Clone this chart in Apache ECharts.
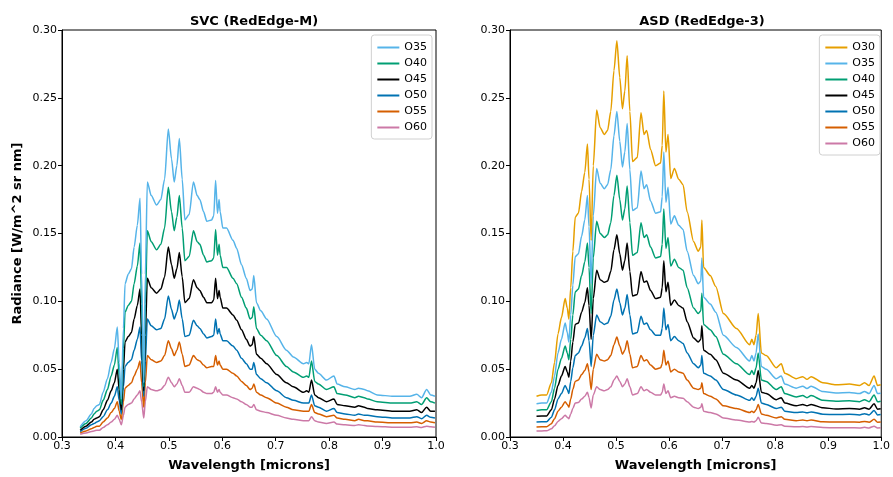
<!DOCTYPE html>
<html>
<head>
<meta charset="utf-8">
<script src="https://cdn.jsdelivr.net/npm/echarts@6/dist/echarts.min.js"></script>
<style>
  html, body { margin: 0; padding: 0; background: #fff; }
  #chart { width: 893px; height: 477px; }
</style>
</head>
<body>
<div id="chart"></div>
<script>
// SVC (RedEdge-M) wavelengths and radiance per series
const svcWave = [0.334,0.345,0.355,0.36,0.365,0.37,0.377,0.385,0.392,0.398,0.4035,0.407,0.411,0.415,0.418,0.424,0.43,0.435,0.441,0.446,0.449,0.453,0.456,0.4597,0.467,0.477,0.485,0.492,0.499,0.505,0.51,0.515,0.5196,0.525,0.53,0.538,0.546,0.553,0.558,0.565,0.571,0.58,0.584,0.5875,0.591,0.594,0.596,0.601,0.608,0.62,0.627,0.636,0.645,0.652,0.656,0.659,0.664,0.672,0.683,0.702,0.72,0.733,0.752,0.758,0.762,0.767,0.773,0.78,0.795,0.809,0.815,0.83,0.848,0.855,0.866,0.872,0.89,0.92,0.951,0.964,0.973,0.9825,0.99,0.998];
const svcO35 = [0.0075,0.012,0.017,0.021,0.023,0.024,0.033,0.043,0.055,0.065,0.081,0.055,0.028,0.080,0.113,0.120,0.124,0.140,0.156,0.176,0.120,0.040,0.120,0.188,0.178,0.171,0.175,0.190,0.227,0.205,0.188,0.200,0.220,0.190,0.160,0.164,0.188,0.178,0.175,0.166,0.159,0.160,0.163,0.189,0.165,0.175,0.166,0.154,0.154,0.145,0.139,0.127,0.117,0.108,0.109,0.119,0.099,0.093,0.087,0.074,0.064,0.059,0.054,0.055,0.054,0.068,0.050,0.047,0.042,0.045,0.039,0.037,0.035,0.036,0.035,0.034,0.031,0.030,0.030,0.0315,0.029,0.035,0.031,0.030];
const svcO40 = [0.0065,0.010,0.014,0.017,0.019,0.020,0.027,0.035,0.045,0.053,0.066,0.045,0.024,0.065,0.092,0.097,0.100,0.113,0.126,0.143,0.098,0.037,0.098,0.152,0.144,0.138,0.142,0.154,0.184,0.166,0.152,0.162,0.178,0.154,0.130,0.133,0.152,0.144,0.142,0.134,0.129,0.130,0.132,0.153,0.134,0.142,0.134,0.125,0.125,0.117,0.113,0.103,0.095,0.087,0.088,0.096,0.080,0.075,0.071,0.060,0.052,0.048,0.044,0.045,0.044,0.056,0.041,0.039,0.035,0.037,0.032,0.031,0.029,0.030,0.029,0.028,0.026,0.025,0.025,0.026,0.024,0.029,0.026,0.025];
const svcO45 = [0.005,0.008,0.011,0.013,0.014,0.015,0.020,0.027,0.034,0.040,0.050,0.035,0.020,0.050,0.070,0.074,0.077,0.087,0.097,0.109,0.075,0.034,0.075,0.117,0.110,0.106,0.109,0.118,0.140,0.127,0.117,0.124,0.136,0.118,0.099,0.102,0.116,0.110,0.108,0.103,0.099,0.099,0.101,0.117,0.102,0.108,0.103,0.095,0.095,0.090,0.086,0.079,0.072,0.067,0.068,0.074,0.061,0.058,0.054,0.046,0.040,0.037,0.033,0.034,0.033,0.042,0.031,0.029,0.026,0.028,0.024,0.023,0.022,0.023,0.022,0.021,0.020,0.019,0.019,0.020,0.018,0.022,0.019,0.019];
const svcO50 = [0.004,0.0065,0.009,0.010,0.011,0.012,0.015,0.020,0.025,0.030,0.037,0.027,0.017,0.037,0.052,0.055,0.057,0.064,0.072,0.081,0.056,0.030,0.056,0.087,0.082,0.079,0.080,0.087,0.104,0.094,0.087,0.092,0.101,0.087,0.074,0.075,0.086,0.082,0.080,0.076,0.073,0.074,0.075,0.087,0.076,0.080,0.076,0.071,0.071,0.067,0.064,0.058,0.054,0.050,0.050,0.055,0.046,0.043,0.040,0.034,0.029,0.027,0.025,0.025,0.025,0.031,0.023,0.022,0.019,0.021,0.018,0.017,0.016,0.017,0.016,0.016,0.015,0.014,0.014,0.015,0.0135,0.016,0.0145,0.014];
const svcO55 = [0.003,0.0045,0.006,0.007,0.008,0.008,0.011,0.014,0.018,0.021,0.026,0.019,0.013,0.026,0.036,0.038,0.040,0.045,0.050,0.056,0.040,0.022,0.040,0.060,0.057,0.055,0.056,0.060,0.071,0.065,0.060,0.064,0.070,0.061,0.052,0.053,0.060,0.057,0.056,0.053,0.051,0.052,0.052,0.060,0.053,0.056,0.053,0.050,0.050,0.047,0.045,0.041,0.038,0.035,0.036,0.039,0.033,0.031,0.029,0.025,0.022,0.020,0.019,0.019,0.019,0.024,0.018,0.017,0.015,0.016,0.014,0.013,0.012,0.013,0.012,0.012,0.011,0.0105,0.0105,0.011,0.010,0.012,0.011,0.0105];
const svcO60 = [0.002,0.003,0.004,0.0045,0.005,0.005,0.007,0.009,0.011,0.013,0.016,0.013,0.009,0.016,0.022,0.024,0.025,0.028,0.031,0.034,0.026,0.014,0.026,0.037,0.035,0.034,0.035,0.038,0.044,0.040,0.037,0.039,0.043,0.038,0.033,0.033,0.037,0.036,0.035,0.033,0.032,0.032,0.033,0.037,0.033,0.035,0.033,0.031,0.031,0.029,0.028,0.026,0.024,0.022,0.022,0.024,0.020,0.019,0.018,0.016,0.014,0.013,0.012,0.012,0.012,0.015,0.012,0.011,0.010,0.011,0.0095,0.009,0.0085,0.009,0.0085,0.0082,0.0078,0.0072,0.0072,0.0075,0.007,0.008,0.0075,0.0072];

// ASD (RedEdge-3)
const asdWave = [0.35,0.36,0.369,0.378,0.384,0.3905,0.397,0.404,0.408,0.411,0.4145,0.4185,0.423,0.429,0.435,0.441,0.446,0.449,0.453,0.457,0.4634,0.47,0.478,0.484,0.490,0.496,0.5015,0.507,0.512,0.5165,0.5209,0.526,0.531,0.540,0.547,0.5527,0.5577,0.565,0.5745,0.584,0.587,0.590,0.594,0.598,0.603,0.610,0.618,0.6263,0.634,0.6462,0.655,0.6598,0.6618,0.665,0.6775,0.688,0.7024,0.727,0.752,0.756,0.760,0.764,0.768,0.774,0.783,0.802,0.8115,0.818,0.8396,0.852,0.860,0.8677,0.890,0.9145,0.94,0.959,0.9685,0.977,0.9865,0.993,0.999];
const asdO30 = [0.030,0.031,0.031,0.040,0.055,0.076,0.088,0.102,0.095,0.087,0.110,0.137,0.162,0.165,0.181,0.195,0.216,0.190,0.145,0.200,0.241,0.228,0.223,0.226,0.240,0.270,0.292,0.265,0.242,0.255,0.281,0.240,0.203,0.206,0.239,0.223,0.226,0.212,0.200,0.202,0.215,0.255,0.210,0.223,0.1905,0.198,0.190,0.186,0.166,0.144,0.137,0.140,0.160,0.125,0.119,0.111,0.091,0.080,0.068,0.072,0.068,0.075,0.091,0.062,0.060,0.051,0.054,0.047,0.043,0.0445,0.0425,0.0445,0.040,0.0385,0.039,0.038,0.040,0.038,0.045,0.038,0.0385];
const asdO35 = [0.0245,0.025,0.025,0.033,0.045,0.062,0.072,0.084,0.077,0.070,0.090,0.112,0.133,0.135,0.148,0.160,0.178,0.155,0.113,0.163,0.198,0.187,0.183,0.186,0.197,0.222,0.240,0.218,0.199,0.210,0.231,0.197,0.167,0.169,0.196,0.183,0.186,0.174,0.165,0.166,0.177,0.210,0.173,0.184,0.157,0.163,0.156,0.153,0.137,0.119,0.113,0.115,0.132,0.103,0.098,0.092,0.075,0.066,0.056,0.060,0.056,0.062,0.076,0.052,0.050,0.043,0.045,0.039,0.036,0.0375,0.0357,0.0375,0.0335,0.0324,0.0328,0.032,0.0336,0.032,0.038,0.032,0.0323];
const asdO40 = [0.0195,0.020,0.020,0.026,0.036,0.050,0.058,0.067,0.062,0.057,0.072,0.090,0.107,0.109,0.119,0.129,0.143,0.125,0.091,0.132,0.159,0.150,0.147,0.149,0.158,0.178,0.193,0.175,0.160,0.168,0.185,0.158,0.134,0.136,0.158,0.147,0.149,0.140,0.132,0.133,0.142,0.168,0.139,0.147,0.126,0.131,0.125,0.123,0.110,0.095,0.091,0.093,0.106,0.083,0.079,0.074,0.061,0.054,0.046,0.049,0.046,0.051,0.062,0.042,0.041,0.035,0.037,0.032,0.0295,0.0305,0.029,0.0305,0.027,0.0263,0.0267,0.026,0.0275,0.026,0.031,0.026,0.0264];
const asdO45 = [0.0153,0.0155,0.0155,0.020,0.028,0.038,0.045,0.052,0.048,0.044,0.056,0.070,0.083,0.084,0.092,0.099,0.110,0.097,0.072,0.102,0.123,0.116,0.114,0.115,0.122,0.138,0.149,0.135,0.123,0.130,0.143,0.122,0.104,0.105,0.122,0.114,0.115,0.108,0.102,0.103,0.110,0.130,0.107,0.114,0.097,0.101,0.097,0.095,0.085,0.073,0.070,0.072,0.082,0.064,0.061,0.057,0.047,0.042,0.036,0.038,0.036,0.040,0.049,0.033,0.032,0.0275,0.029,0.025,0.023,0.024,0.023,0.024,0.0215,0.0207,0.021,0.0205,0.0216,0.0205,0.0245,0.0205,0.0208];
const asdO50 = [0.011,0.0112,0.0112,0.0145,0.020,0.028,0.032,0.038,0.035,0.032,0.041,0.051,0.060,0.062,0.067,0.073,0.080,0.071,0.052,0.075,0.090,0.085,0.083,0.084,0.089,0.101,0.109,0.099,0.090,0.095,0.105,0.090,0.076,0.077,0.089,0.083,0.084,0.079,0.075,0.075,0.080,0.095,0.079,0.083,0.071,0.074,0.071,0.069,0.062,0.054,0.051,0.053,0.060,0.047,0.045,0.042,0.035,0.031,0.027,0.029,0.027,0.030,0.036,0.025,0.024,0.021,0.022,0.019,0.018,0.0185,0.0178,0.0185,0.0168,0.0165,0.0167,0.0163,0.0172,0.0163,0.0195,0.0163,0.0165];
const asdO55 = [0.0073,0.0075,0.0075,0.0098,0.0135,0.019,0.022,0.026,0.024,0.022,0.028,0.035,0.041,0.042,0.046,0.049,0.054,0.048,0.035,0.050,0.061,0.057,0.056,0.057,0.060,0.068,0.0737,0.067,0.061,0.064,0.071,0.061,0.051,0.052,0.060,0.056,0.057,0.053,0.050,0.051,0.054,0.064,0.053,0.056,0.048,0.050,0.048,0.047,0.042,0.036,0.035,0.036,0.040,0.032,0.030,0.028,0.023,0.021,0.018,0.019,0.018,0.020,0.024,0.017,0.016,0.014,0.015,0.013,0.012,0.0125,0.012,0.0125,0.0112,0.011,0.0111,0.0109,0.0115,0.0109,0.013,0.0109,0.011];
const asdO60 = [0.0044,0.0045,0.0046,0.006,0.0083,0.0115,0.0135,0.016,0.0145,0.0135,0.017,0.021,0.025,0.0255,0.028,0.030,0.033,0.029,0.0214,0.031,0.037,0.035,0.034,0.035,0.037,0.042,0.045,0.041,0.037,0.039,0.043,0.037,0.031,0.032,0.037,0.034,0.035,0.033,0.031,0.031,0.033,0.039,0.032,0.034,0.029,0.030,0.029,0.0285,0.026,0.022,0.021,0.022,0.0245,0.019,0.018,0.017,0.014,0.0125,0.011,0.0115,0.011,0.012,0.0145,0.0103,0.010,0.0087,0.009,0.008,0.0075,0.0077,0.0074,0.0077,0.007,0.0068,0.0069,0.0067,0.0071,0.0067,0.008,0.0067,0.0068];

const xTicks = [0.3, 0.4, 0.5, 0.6, 0.7, 0.8, 0.9, 1.0];
const yTicks = [0.00, 0.05, 0.10, 0.15, 0.20, 0.25, 0.30];

const colors = {
  O30: '#E69F00', O35: '#56B4E9', O40: '#009E73', O45: '#000000',
  O50: '#0072B2', O55: '#D55E00', O60: '#CC79A7'
};

const svcSeries = { O35: svcO35, O40: svcO40, O45: svcO45, O50: svcO50, O55: svcO55, O60: svcO60 };
const asdSeries = { O30: asdO30, O35: asdO35, O40: asdO40, O45: asdO45, O50: asdO50, O55: asdO55, O60: asdO60 };

const font = 'DejaVu Sans';
const chart = echarts.init(document.getElementById('chart'));

function xAxis(idx) {
  return {
    type: 'value', gridIndex: idx, min: xTicks[0], max: xTicks[xTicks.length - 1], interval: 0.1,
    name: 'Wavelength [microns]', nameLocation: 'middle', nameGap: 22,
    nameTextStyle: { fontFamily: font, fontSize: 13, fontWeight: 'bold', color: '#000' },
    axisLine: { show: true, onZero: false, lineStyle: { color: '#000', width: 1 } },
    axisTick: { show: true, inside: false, length: 4, lineStyle: { color: '#000' } },
    axisLabel: { fontFamily: font, fontSize: 11, color: '#000', margin: 4, formatter: v => v.toFixed(1) },
    splitLine: { show: false }
  };
}
function yAxis(idx, withName) {
  return {
    type: 'value', gridIndex: idx, min: yTicks[0], max: yTicks[yTicks.length - 1], interval: 0.05,
    name: withName ? 'Radiance [W/m^2 sr nm]' : '', nameLocation: 'middle', nameGap: 38,
    nameTextStyle: { fontFamily: font, fontSize: 13, fontWeight: 'bold', color: '#000' },
    axisLine: { show: true, lineStyle: { color: '#000', width: 1 } },
    axisTick: { show: true, inside: false, length: 4, lineStyle: { color: '#000' } },
    axisLabel: { fontFamily: font, fontSize: 11, color: '#000', margin: 5, formatter: v => v.toFixed(2) },
    splitLine: { show: false }
  };
}
function makeSeries(wave, group, idx) {
  return Object.keys(group).map(name => ({
    name: name, type: 'line', xAxisIndex: idx, yAxisIndex: idx,
    data: wave.map((w, i) => [w, group[name][i]]),
    showSymbol: false, symbol: 'none', smooth: 0.25, smoothMonotone: 'x',
    lineStyle: { color: colors[name], width: 1.5 }, itemStyle: { color: colors[name] },
    animation: false, z: 10 - Object.keys(group).indexOf(name)
  }));
}
function legend(names, right) {
  return {
    data: names, orient: 'vertical', right: right, top: 35,
    icon: 'rect', itemWidth: 22, itemHeight: 2, itemGap: 3,
    padding: [6, 5, 5, 6], borderColor: '#d0d0d0', borderWidth: 1, borderRadius: 3,
    backgroundColor: 'rgba(255,255,255,0.8)',
    textStyle: { fontFamily: font, fontSize: 11, color: '#000', lineHeight: 13 },
    selectedMode: false
  };
}

chart.setOption({
  backgroundColor: '#fff',
  animation: false,
  title: [
    { text: 'SVC (RedEdge-M)', left: 249, top: 10, textAlign: 'center',
      textStyle: { fontFamily: font, fontSize: 13, fontWeight: 'bold', color: '#000' } },
    { text: 'ASD (RedEdge-3)', left: 697, top: 10, textAlign: 'center',
      textStyle: { fontFamily: font, fontSize: 13, fontWeight: 'bold', color: '#000' } }
  ],
  grid: [
    { left: 62, width: 374, top: 30, height: 411, show: true, borderColor: '#000', borderWidth: 1 },
    { left: 510, width: 374, top: 30, height: 411, show: true, borderColor: '#000', borderWidth: 1 }
  ],
  xAxis: [xAxis(0), xAxis(1)],
  yAxis: [yAxis(0, true), yAxis(1, false)],
  legend: [legend(Object.keys(svcSeries), 461), legend(Object.keys(asdSeries), 13)],
  series: [...makeSeries(svcWave, svcSeries, 0), ...makeSeries(asdWave, asdSeries, 1)]
});
</script>
</body>
</html>
